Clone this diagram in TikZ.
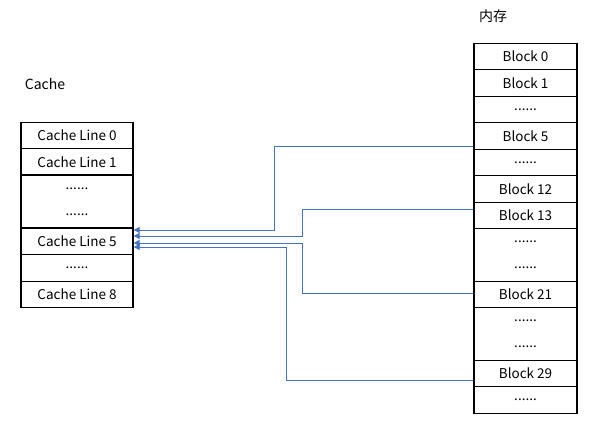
\documentclass[tikz,border=0pt]{standalone}
\usepackage{fontspec}
\setmainfont{Noto Sans CJK SC}
\usetikzlibrary{calc,arrows.meta}
\definecolor{linkblue}{HTML}{4472C4}
\begin{document}
\begin{tikzpicture}[x=1pt,y=-1pt,
  cell/.style={draw=black,line width=1.3pt,rectangle,inner sep=0pt,
    font=\fontsize{13.5}{26}\selectfont,align=center},
  cachecell/.style={cell,minimum width=112pt,minimum height=26.5pt},
  memcell/.style={cell,minimum width=103pt,minimum height=26.5pt},
  tall/.style={minimum height=53pt},
  conn/.style={draw=linkblue,line width=1pt,-{Triangle[length=6pt,width=6pt]}},
  title/.style={font=\fontsize{14}{16}\selectfont,inner sep=0pt}]
\useasboundingbox (0,0) rectangle (591,424);

% titles
\node[title] (cachetitle) at (45,84) {Cache};
\node[title] (memtitle) at (493,16) {内存};

% cache lines
\node[cachecell] (cl0) at (77,135.5) {Cache Line 0};
\node[cachecell] (cl1) at (77,162) {Cache Line 1};
\node[cachecell,tall] (cgap1) at (77,201.5) {......\\......};
\node[cachecell] (cl5) at (77,241.5) {Cache Line 5};
\node[cachecell] (cgap2) at (77,268) {......};
\node[cachecell] (cl8) at (77,294.5) {Cache Line 8};

% memory blocks
\node[memcell] (b0) at (525.5,56.5) {Block 0};
\node[memcell] (b1) at (525.5,83) {Block 1};
\node[memcell] (mgap1) at (525.5,109.5) {......};
\node[memcell] (b5) at (525.5,136) {Block 5};
\node[memcell] (mgap2) at (525.5,162.5) {......};
\node[memcell] (b12) at (525.5,189) {Block 12};
\node[memcell] (b13) at (525.5,215.5) {Block 13};
\node[memcell,tall] (mgap3) at (525.5,255) {......\\......};
\node[memcell] (b21) at (525.5,294.5) {Block 21};
\node[memcell,tall] (mgap4) at (525.5,334) {......\\......};
\node[memcell] (b29) at (525.5,373.5) {Block 29};
\node[memcell] (mgap5) at (525.5,400) {......};

% mapping of blocks onto cache line 5
\draw[conn] ($(b5.west)+(0,10)$) -- ++(-199,0) |- ($(cl5.east)+(0,-11.5)$);
\draw[conn] ($(b13.west)+(0,-6.5)$) -- ++(-170.5,0) |- ($(cl5.east)+(0,-5.5)$);
\draw[conn] ($(b21.west)+(0,-1.5)$) -- ++(-170.5,0) |- ($(cl5.east)+(0,1.5)$);
\draw[conn] ($(b29.west)+(0,6.5)$) -- ++(-186.5,0) |- ($(cl5.east)+(0,5.5)$);
\end{tikzpicture}
\end{document}
